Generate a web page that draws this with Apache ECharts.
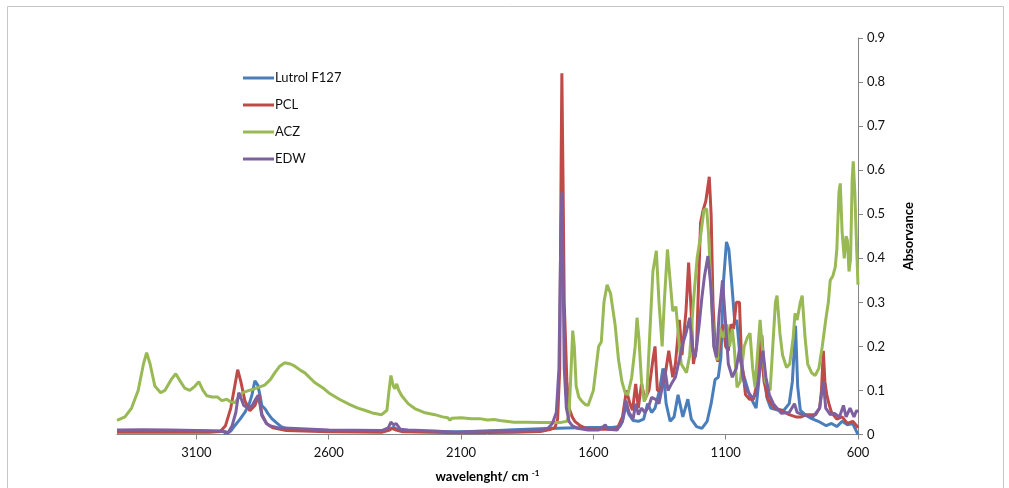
<!DOCTYPE html>
<html>
<head>
<meta charset="utf-8">
<title>FTIR spectra</title>
<script src="https://cdn.jsdelivr.net/npm/echarts@6.0.0/dist/echarts.min.js"></script>
<style>
  html, body { margin: 0; padding: 0; background: #fff; }
  #chart { width: 1009px; height: 488px; }
</style>
</head>
<body>
<div id="chart"></div>
<script>
// spectra: [wavenumber cm-1, absorbance]
const lutrolF127 = [
  [3400, 0.008], [3300, 0.009], [3200, 0.008], [3100, 0.008], [3000, 0.007], [2985, 0.002],
  [2970, 0.008], [2955, 0.02], [2935, 0.035], [2917, 0.05], [2900, 0.07], [2890, 0.09],
  [2879, 0.122], [2868, 0.112], [2860, 0.09], [2853, 0.066], [2840, 0.058], [2830, 0.048],
  [2815, 0.036], [2800, 0.028], [2780, 0.018], [2760, 0.014], [2720, 0.01], [2600, 0.008],
  [2400, 0.007], [2370, 0.012], [2355, 0.016], [2335, 0.01], [2300, 0.007], [2100, 0.006],
  [2000, 0.008], [1900, 0.011], [1800, 0.013], [1700, 0.015], [1600, 0.016], [1530, 0.016],
  [1500, 0.018], [1490, 0.03], [1477, 0.066], [1465, 0.045], [1450, 0.032], [1430, 0.03],
  [1410, 0.035], [1395, 0.07], [1380, 0.05], [1367, 0.06], [1350, 0.1], [1337, 0.15],
  [1325, 0.07], [1310, 0.03], [1295, 0.04], [1280, 0.09], [1273, 0.093], [1262, 0.04],
  [1243, 0.08], [1230, 0.035], [1210, 0.018], [1190, 0.014], [1170, 0.03], [1155, 0.07],
  [1140, 0.125], [1128, 0.13], [1118, 0.175], [1108, 0.35], [1097, 0.437], [1088, 0.42],
  [1078, 0.35], [1065, 0.25], [1058, 0.26], [1045, 0.17], [1030, 0.13], [1010, 0.09],
  [998, 0.075], [985, 0.06], [975, 0.12], [963, 0.225], [955, 0.15], [945, 0.085],
  [930, 0.06], [900, 0.055], [880, 0.055], [860, 0.07], [848, 0.12], [836, 0.247],
  [828, 0.11], [818, 0.055], [800, 0.045], [775, 0.036], [750, 0.03], [720, 0.02],
  [700, 0.025], [680, 0.018], [660, 0.03], [640, 0.022], [620, 0.025], [608, 0.01], [600, 0.0]
]

const pcl = [
  [3400, 0.005], [3200, 0.005], [3050, 0.005], [3010, 0.007], [2990, 0.02], [2970, 0.06],
  [2955, 0.11], [2944, 0.147], [2932, 0.12], [2917, 0.077], [2898, 0.054], [2879, 0.066],
  [2864, 0.09], [2852, 0.045], [2835, 0.025], [2810, 0.015], [2760, 0.009], [2600, 0.006],
  [2400, 0.005], [2370, 0.01], [2360, 0.014], [2345, 0.01], [2320, 0.006], [2100, 0.004],
  [1900, 0.005], [1800, 0.007], [1760, 0.012], [1745, 0.016], [1735, 0.035], [1727, 0.15],
  [1722, 0.6], [1719, 0.82], [1715, 0.6], [1710, 0.3], [1700, 0.12], [1692, 0.06],
  [1680, 0.04], [1670, 0.03], [1650, 0.02], [1632, 0.015], [1600, 0.012], [1550, 0.012],
  [1510, 0.013], [1490, 0.04], [1475, 0.1], [1462, 0.07], [1452, 0.055], [1440, 0.115],
  [1430, 0.06], [1418, 0.115], [1405, 0.08], [1390, 0.1], [1375, 0.17], [1367, 0.2],
  [1358, 0.1], [1345, 0.1], [1330, 0.13], [1315, 0.19], [1300, 0.13], [1290, 0.16],
  [1275, 0.26], [1265, 0.18], [1250, 0.28], [1240, 0.39], [1232, 0.3], [1222, 0.16],
  [1210, 0.2], [1195, 0.48], [1185, 0.51], [1175, 0.53], [1162, 0.585], [1155, 0.5],
  [1148, 0.3], [1140, 0.2], [1130, 0.165], [1120, 0.22], [1110, 0.25], [1100, 0.2],
  [1090, 0.19], [1080, 0.25], [1070, 0.24], [1060, 0.3], [1048, 0.3], [1040, 0.17],
  [1025, 0.09], [1010, 0.08], [995, 0.08], [980, 0.12], [968, 0.21], [955, 0.12],
  [940, 0.08], [915, 0.06], [890, 0.055], [860, 0.045], [835, 0.04], [815, 0.04],
  [795, 0.045], [775, 0.045], [760, 0.045], [745, 0.06], [738, 0.1], [731, 0.19],
  [725, 0.12], [718, 0.09], [710, 0.07], [700, 0.05], [680, 0.035], [660, 0.04],
  [640, 0.025], [620, 0.03], [605, 0.02], [600, 0.015]
]

const acz = [
  [3400, 0.032], [3370, 0.04], [3345, 0.06], [3320, 0.1], [3300, 0.16], [3288, 0.186],
  [3275, 0.16], [3257, 0.11], [3235, 0.095], [3219, 0.1], [3195, 0.125], [3178, 0.138],
  [3160, 0.12], [3144, 0.105], [3125, 0.1], [3105, 0.11], [3091, 0.12], [3075, 0.1],
  [3061, 0.088], [3040, 0.085], [3020, 0.085], [3004, 0.077], [2985, 0.08], [2970, 0.074],
  [2955, 0.072], [2940, 0.085], [2925, 0.095], [2900, 0.1], [2879, 0.104], [2860, 0.108],
  [2842, 0.112], [2820, 0.125], [2804, 0.14], [2785, 0.155], [2766, 0.163], [2745, 0.16],
  [2728, 0.155], [2705, 0.145], [2690, 0.14], [2670, 0.128], [2653, 0.118], [2620, 0.105],
  [2596, 0.093], [2560, 0.08], [2520, 0.068], [2490, 0.06], [2464, 0.055], [2430, 0.048],
  [2400, 0.045], [2380, 0.055], [2372, 0.1], [2365, 0.134], [2356, 0.11], [2350, 0.104],
  [2343, 0.115], [2335, 0.1], [2324, 0.088], [2300, 0.07], [2275, 0.059], [2240, 0.05],
  [2199, 0.045], [2170, 0.04], [2150, 0.038], [2142, 0.032], [2135, 0.037], [2100, 0.038],
  [2060, 0.036], [2029, 0.036], [2000, 0.033], [1975, 0.034], [1953, 0.032], [1900, 0.028],
  [1850, 0.028], [1802, 0.027], [1760, 0.027], [1726, 0.027], [1700, 0.03], [1692, 0.045],
  [1684, 0.15], [1678, 0.236], [1672, 0.2], [1665, 0.11], [1655, 0.085], [1643, 0.075],
  [1630, 0.068], [1620, 0.066], [1600, 0.1], [1590, 0.15], [1580, 0.2], [1570, 0.21],
  [1560, 0.3], [1548, 0.34], [1535, 0.32], [1518, 0.25], [1505, 0.17], [1492, 0.12],
  [1480, 0.095], [1470, 0.09], [1455, 0.13], [1442, 0.2], [1435, 0.265], [1428, 0.22],
  [1418, 0.12], [1408, 0.075], [1398, 0.09], [1385, 0.25], [1375, 0.37], [1362, 0.417],
  [1352, 0.3], [1340, 0.2], [1332, 0.3], [1320, 0.42], [1310, 0.35], [1300, 0.28],
  [1288, 0.29], [1278, 0.22], [1268, 0.16], [1248, 0.14], [1236, 0.18], [1222, 0.3],
  [1208, 0.4], [1195, 0.45], [1182, 0.51], [1172, 0.512], [1165, 0.46], [1153, 0.3],
  [1143, 0.2], [1132, 0.168], [1121, 0.24], [1110, 0.22], [1095, 0.25], [1085, 0.2],
  [1075, 0.24], [1068, 0.2], [1057, 0.107], [1045, 0.12], [1030, 0.2], [1018, 0.22],
  [1008, 0.23], [998, 0.15], [989, 0.107], [980, 0.18], [970, 0.26], [962, 0.2],
  [950, 0.12], [932, 0.1], [922, 0.2], [912, 0.3], [906, 0.315], [895, 0.23],
  [885, 0.18], [870, 0.152], [858, 0.16], [845, 0.22], [838, 0.275], [830, 0.26],
  [818, 0.3], [811, 0.315], [800, 0.22], [790, 0.16], [775, 0.14], [762, 0.134],
  [748, 0.15], [735, 0.2], [722, 0.26], [712, 0.3], [705, 0.35], [695, 0.36],
  [686, 0.38], [680, 0.42], [672, 0.55], [667, 0.57], [660, 0.46], [652, 0.4],
  [645, 0.45], [640, 0.44], [634, 0.37], [628, 0.4], [622, 0.58], [618, 0.62],
  [612, 0.55], [605, 0.42], [600, 0.34]
]

const edw = [
  [3400, 0.01], [3300, 0.011], [3200, 0.01], [3100, 0.009], [3000, 0.008], [2980, 0.004],
  [2965, 0.02], [2951, 0.05], [2940, 0.095], [2930, 0.08], [2921, 0.066], [2905, 0.06],
  [2890, 0.065], [2879, 0.077], [2868, 0.088], [2860, 0.07], [2853, 0.043], [2835, 0.025],
  [2823, 0.02], [2790, 0.015], [2747, 0.014], [2600, 0.01], [2400, 0.009], [2375, 0.015],
  [2365, 0.028], [2355, 0.022], [2345, 0.025], [2330, 0.012], [2300, 0.01], [2200, 0.008],
  [2120, 0.005], [2000, 0.008], [1900, 0.008], [1800, 0.01], [1770, 0.015], [1755, 0.025],
  [1740, 0.05], [1730, 0.15], [1723, 0.45], [1719, 0.55], [1715, 0.4], [1710, 0.15],
  [1702, 0.06], [1692, 0.03], [1680, 0.02], [1660, 0.014], [1620, 0.01], [1580, 0.01],
  [1555, 0.022], [1545, 0.012], [1510, 0.01], [1490, 0.03], [1477, 0.077], [1465, 0.05],
  [1450, 0.035], [1440, 0.07], [1430, 0.045], [1418, 0.06], [1405, 0.05], [1390, 0.065],
  [1380, 0.084], [1365, 0.08], [1352, 0.07], [1340, 0.107], [1330, 0.15], [1318, 0.1],
  [1305, 0.115], [1290, 0.13], [1275, 0.17], [1265, 0.2], [1250, 0.23], [1236, 0.265],
  [1225, 0.19], [1215, 0.175], [1200, 0.25], [1190, 0.31], [1180, 0.36], [1167, 0.405],
  [1155, 0.33], [1145, 0.2], [1135, 0.175], [1125, 0.27], [1112, 0.35], [1100, 0.25],
  [1090, 0.16], [1075, 0.13], [1060, 0.15], [1046, 0.2], [1035, 0.13], [1020, 0.1],
  [1000, 0.084], [985, 0.09], [970, 0.15], [959, 0.19], [948, 0.13], [935, 0.09],
  [920, 0.07], [890, 0.048], [860, 0.05], [840, 0.07], [830, 0.05], [810, 0.045],
  [770, 0.04], [745, 0.06], [731, 0.12], [722, 0.06], [705, 0.045], [690, 0.048],
  [670, 0.04], [655, 0.066], [645, 0.04], [630, 0.06], [615, 0.04], [605, 0.055], [600, 0.05]
]

const seriesNames = ['Lutrol F127', 'PCL', 'ACZ', 'EDW']
const seriesColors = ['#4a7ebb', '#be4b48', '#98b954', '#7d60a0']
const xTicks = [600, 1100, 1600, 2100, 2600, 3100]

const chart = echarts.init(document.getElementById('chart'))
const font = 'Lato, "Liberation Sans", sans-serif'

chart.setOption({
  animation: false,
  color: seriesColors,
  textStyle: { fontFamily: font },
  graphic: [{
    type: 'rect',
    shape: { x: 7.5, y: 6.5, width: 996, height: 500 },
    style: { fill: 'none', stroke: '#c6c6c6', lineWidth: 1 },
    silent: true
  }],
  legend: {
    orient: 'vertical',
    left: 238,
    top: 65,
    icon: 'rect',
    itemWidth: 31,
    itemHeight: 3,
    itemGap: 11,
    textStyle: { fontFamily: font, fontSize: 13, color: '#111', lineHeight: 16, padding: [0, 0, 0, -4] },
    data: seriesNames
  },
  grid: {
    left: 117,
    right: 151,
    top: 38,
    bottom: 53
  },
  xAxis: {
    type: 'value',
    min: 600,
    max: 3400,
    inverse: true,
    interval: 500,
    name: '{a|wavelenght/ cm }{s|-1}',
    nameLocation: 'middle',
    nameGap: 35,
    nameTextStyle: {
      rich: {
        a: { fontFamily: font, fontSize: 13, fontWeight: 'bold', color: '#000' },
        s: { fontFamily: font, fontSize: 8, fontWeight: 'bold', color: '#000', verticalAlign: 'top', padding: [0, 0, 6, 0] }
      }
    },
    axisLine: { lineStyle: { color: '#868686', width: 1 } },
    axisTick: { show: true, length: 5, customValues: xTicks, lineStyle: { color: '#868686' } },
    axisLabel: {
      customValues: xTicks,
      formatter: v => String(v),
      fontFamily: font, fontSize: 13, color: '#111', margin: 12
    },
    splitLine: { show: false }
  },
  yAxis: {
    type: 'value',
    position: 'right',
    min: 0,
    max: 0.9,
    interval: 0.1,
    name: 'Absorvance',
    nameLocation: 'middle',
    nameRotate: 90,
    nameGap: 44,
    nameTextStyle: { fontFamily: font, fontSize: 13, fontWeight: 'bold', color: '#000' },
    axisLine: { show: true, lineStyle: { color: '#868686', width: 1 } },
    axisTick: { show: true, length: 5, lineStyle: { color: '#868686' } },
    axisLabel: { fontFamily: font, fontSize: 13, color: '#111', margin: 9 },
    splitLine: { show: false }
  },
  series: [lutrolF127, pcl, acz, edw].map((data, i) => ({
    name: seriesNames[i],
    type: 'line',
    data: data,
    symbol: 'none',
    lineStyle: { width: 3, color: seriesColors[i] },
    z: 2 + i
  }))
})
</script>
</body>
</html>
